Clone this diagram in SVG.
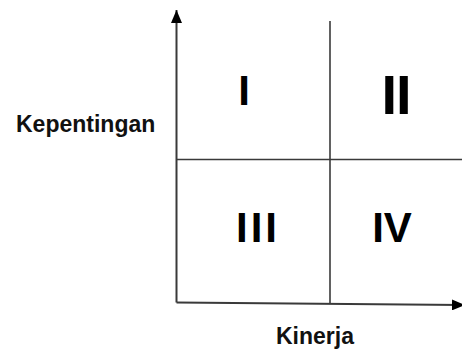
<svg xmlns="http://www.w3.org/2000/svg" width="462" height="351" viewBox="0 0 462 351">
<style>
.ax{stroke:#3a3a3a;stroke-width:1.6;fill:none}
.num{font-family:"Liberation Sans",Arial,sans-serif;font-weight:bold;fill:#000;text-anchor:middle}
.lbl{font-family:"Liberation Sans",Arial,sans-serif;font-weight:bold;font-size:23px;fill:#111}
</style>
<defs>
<marker id="ah" viewBox="0 0 10 10" refX="10" refY="5" markerWidth="13" markerHeight="11" markerUnits="userSpaceOnUse" orient="auto" preserveAspectRatio="none">
<path d="M0,0 L10,5 L0,10 Z" fill="#000"/>
</marker>
</defs>
<g id="connectors">
<line class="ax" x1="176.5" y1="302.5" x2="176.5" y2="10" marker-end="url(#ah)" style="stroke-width:2"/>
<line class="ax" x1="176.5" y1="302.5" x2="465" y2="305" marker-end="url(#ah)" style="stroke-width:2"/>
<line class="ax" x1="330" y1="21" x2="330" y2="304"/>
<line class="ax" x1="176" y1="159.5" x2="462" y2="159.5"/>
</g>
<g id="q1"><text class="num" x="244" y="105" font-size="42">I</text></g>
<g id="q2"><text class="num" x="396" y="114" font-size="56" letter-spacing="-1">II</text></g>
<g id="q3"><text class="num" x="258" y="242" font-size="42" letter-spacing="3">III</text></g>
<g id="q4"><text class="num" x="392" y="242" font-size="42">IV</text></g>
<g id="ylabel"><text class="lbl" x="16" y="132">Kepentingan</text></g>
<g id="xlabel"><text class="lbl" x="276" y="344">Kinerja</text></g>
</svg>
